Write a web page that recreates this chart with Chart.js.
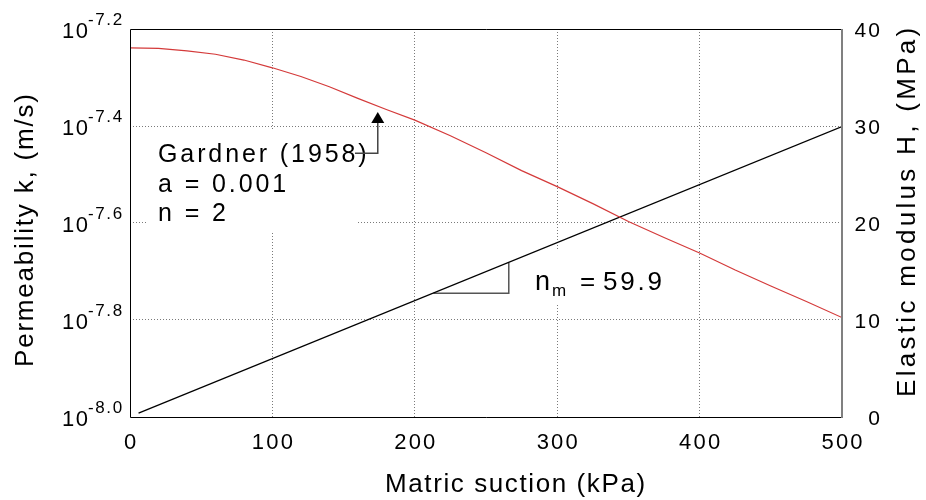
<!DOCTYPE html>
<html>
<head>
<meta charset="utf-8">
<script src="https://cdn.jsdelivr.net/npm/chart.js@4/dist/chart.umd.min.js"></script>
<style>
  html, body { margin: 0; padding: 0; background: #fff; }
  #wrap { width: 926px; height: 500px; }
</style>
</head>
<body>
<div id="wrap"><canvas id="chart" width="926" height="500"></canvas></div>
<script>
const suction = [0, 20, 40, 60, 80, 100, 120, 140, 160, 180, 200, 225, 250, 275,
                 300, 325, 350, 375, 400, 425, 450, 475, 500];
const logK = [-7.239, -7.240, -7.245, -7.252, -7.264, -7.280, -7.298, -7.319, -7.343,
              -7.366, -7.388, -7.420, -7.455, -7.492, -7.525, -7.560, -7.597, -7.630,
              -7.662, -7.697, -7.730, -7.762, -7.795];

// elastic modulus line (right axis, MPa)
const modulusSuction = [6, 500];
const modulusValues = [0.4, 29.95];

// slope triangle under the modulus line
const triSuction = [213, 266, 266];
const triModulus = [12.75, 12.75, 15.93];

// tick labels
const xTicks = [0, 100, 200, 300, 400, 500];
const kTickExps = [-8.0, -7.8, -7.6, -7.4, -7.2];
const hTicks = [0, 10, 20, 30, 40];

// arrow pointing at the curve
const arrowSuction = 174;
const arrowTipLogK = -7.371;
const arrowElbowLogK = -7.456;
const arrowTailSuction = 158;

const FONT = '"Liberation Sans", Arial, sans-serif';

// draw text one char at a time so the letter spacing matches the figure
function spaced(ctx, text, x, y, gap, align) {
    const chars = [...text];
    const widths = chars.map(c => ctx.measureText(c).width);
    const total = widths.reduce((a, b) => a + b, 0) + gap * (chars.length - 1);
    let cx = align === 'right' ? x - total : align === 'center' ? x - total / 2 : x;
    ctx.textAlign = 'left';
    chars.forEach((c, i) => {
        ctx.fillText(c, cx, y);
        cx += widths[i] + gap;
    });
    return total;
}

const edgeless = (first, last) => c =>
    (c.index === first || c.index === last) ? 'rgba(0,0,0,0)' : '#7a7a7a';

const annotations = {
    id: 'annotations',
    beforeDatasetsDraw(chart) {
        const ctx = chart.ctx;
        ctx.save();
        // white boxes behind the labels hide the grid
        ctx.fillStyle = '#fff';
        ctx.fillRect(148, 131, 210, 101);
        ctx.fillRect(528, 250, 146, 53);

        ctx.fillStyle = '#000';
        ctx.textBaseline = 'alphabetic';
        ctx.font = '25px ' + FONT;
        spaced(ctx, 'Gardner (1958)', 158, 162, 2.9);
        spaced(ctx, 'a = 0.001', 158, 192, 2.9);
        spaced(ctx, 'n = 2', 158, 221, 2.9);

        ctx.font = '27px ' + FONT;
        spaced(ctx, 'n', 535, 290, 0);
        ctx.font = '17px ' + FONT;
        spaced(ctx, 'm', 552, 296, 0);
        ctx.font = '26px ' + FONT;
        spaced(ctx, '=', 580, 290, 0);
        spaced(ctx, '59.9', 603, 290, 2.8);
        ctx.restore();
    },
    afterDatasetsDraw(chart) {
        const ctx = chart.ctx;
        const { x, y, y2 } = chart.scales;
        const area = chart.chartArea;
        ctx.save();

        // arrow
        const ax = x.getPixelForValue(arrowSuction);
        const tipY = y.getPixelForValue(10 ** arrowTipLogK);
        const elbowY = y.getPixelForValue(10 ** arrowElbowLogK);
        const tailX = x.getPixelForValue(arrowTailSuction);
        ctx.strokeStyle = '#444';
        ctx.lineWidth = 1.5;
        ctx.beginPath();
        ctx.moveTo(ax, tipY + 10);
        ctx.lineTo(ax, elbowY);
        ctx.lineTo(tailX, elbowY);
        ctx.stroke();
        ctx.fillStyle = '#000';
        ctx.beginPath();
        ctx.moveTo(ax, tipY);
        ctx.lineTo(ax - 6.5, tipY + 11);
        ctx.lineTo(ax + 6.5, tipY + 11);
        ctx.closePath();
        ctx.fill();

        // frame
        ctx.lineWidth = 1;
        ctx.strokeStyle = '#000';
        ctx.beginPath();
        ctx.moveTo(area.right, area.top + 0.5);
        ctx.lineTo(area.left + 0.5, area.top + 0.5);
        ctx.lineTo(area.left + 0.5, area.bottom + 0.5);
        ctx.lineTo(area.right, area.bottom + 0.5);
        ctx.stroke();
        ctx.strokeStyle = '#808080';
        ctx.lineWidth = 2;
        ctx.beginPath();
        ctx.moveTo(area.right, area.top);
        ctx.lineTo(area.right, area.bottom + 1);
        ctx.stroke();

        ctx.fillStyle = '#000';
        // bottom ticks
        ctx.font = '22px ' + FONT;
        xTicks.forEach(v => spaced(ctx, String(v), x.getPixelForValue(v), 449, 2.2, 'center'));

        // left ticks 10^e
        kTickExps.forEach(e => {
            const py = y.getPixelForValue(10 ** e);
            ctx.font = '22px ' + FONT;
            spaced(ctx, '10', 62, py + 8.5, 1.5);
            ctx.font = '17px ' + FONT;
            spaced(ctx, e.toFixed(1), 88, py - 4, 1.6);
        });

        // right ticks
        ctx.font = '21px ' + FONT;
        hTicks.forEach(v => spaced(ctx, String(v), 880, y2.getPixelForValue(v) + 7.5, 2.2, 'right'));

        // axis titles
        ctx.font = '26px ' + FONT;
        spaced(ctx, 'Matric suction (kPa)', 385, 492, 1.6);

        ctx.save();
        ctx.translate(33, 367);
        ctx.rotate(-Math.PI / 2);
        spaced(ctx, 'Permeability k, (m/s)', 0, 0, 1.8);
        ctx.restore();

        ctx.save();
        ctx.translate(915, 397);
        ctx.rotate(-Math.PI / 2);
        spaced(ctx, 'Elastic modulus H, (MPa)', 0, 0, 3.3);
        ctx.restore();

        ctx.restore();
    }
};

new Chart(document.getElementById('chart').getContext('2d'), {
    type: 'line',
    data: {
        datasets: [
            {
                label: 'Permeability',
                data: suction.map((s, i) => ({ x: s, y: 10 ** logK[i] })),
                yAxisID: 'y',
                borderColor: '#d43a3a',
                borderWidth: 1.2,
                pointRadius: 0,
                tension: 0,
            },
            {
                label: 'Elastic modulus',
                data: modulusSuction.map((s, i) => ({ x: s, y: modulusValues[i] })),
                yAxisID: 'y2',
                borderColor: '#000',
                borderWidth: 1.3,
                pointRadius: 0,
            },
            {
                label: 'Slope',
                data: triSuction.map((s, i) => ({ x: s, y: triModulus[i] })),
                yAxisID: 'y2',
                borderColor: '#555',
                borderWidth: 1.5,
                pointRadius: 0,
            },
        ],
    },
    options: {
        responsive: false,
        animation: false,
        events: [],
        layout: { padding: { top: 29, left: 0, right: 0, bottom: 0 } },
        plugins: { legend: { display: false }, tooltip: { enabled: false } },
        scales: {
            x: {
                type: 'linear',
                min: 0,
                max: 500,
                ticks: { display: false, stepSize: 100 },
                grid: { drawTicks: false, color: edgeless(0, 5), lineWidth: 1 },
                border: { display: false, dash: [1, 2] },
                afterFit: s => { s.height = 83; },
            },
            y: {
                type: 'logarithmic',
                position: 'left',
                min: 1e-8,
                max: 10 ** -7.2,
                afterBuildTicks: s => { s.ticks = kTickExps.map(e => ({ value: 10 ** e })); },
                ticks: { display: false },
                grid: { drawTicks: false, color: edgeless(0, 4), lineWidth: 1 },
                border: { display: false, dash: [1, 2] },
                afterFit: s => { s.width = 130; },
            },
            y2: {
                type: 'linear',
                position: 'right',
                min: 0,
                max: 40,
                ticks: { display: false, stepSize: 10 },
                grid: { display: false },
                border: { display: false },
                afterFit: s => { s.width = 84; },
            },
        },
    },
    plugins: [annotations],
});
</script>
</body>
</html>
